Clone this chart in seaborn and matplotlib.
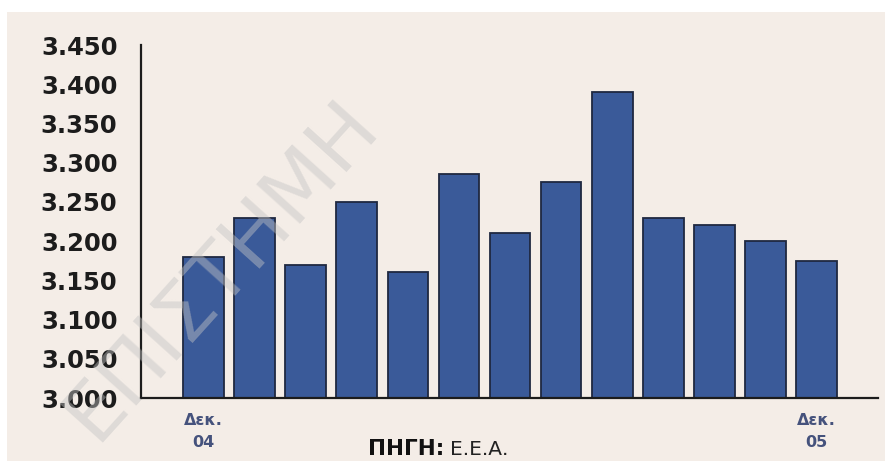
import matplotlib
matplotlib.use("Agg")
import matplotlib.pyplot as plt
import matplotlib.patches as mpatches
import seaborn as sns
import pandas as pd
from matplotlib.ticker import FuncFormatter, MultipleLocator

# ---- data ----
months = ["Δεκ 04", "Ιαν", "Φεβ", "Μαρ", "Απρ", "Μαϊ", "Ιουν",
          "Ιουλ", "Αυγ", "Σεπ", "Οκτ", "Νοε", "Δεκ 05"]
values = [3180, 3230, 3170, 3250, 3160, 3285, 3210,
          3275, 3390, 3230, 3220, 3200, 3175]
tick_labels = ["Δεκ.\n04", "", "", "", "", "", "", "", "", "", "", "", "Δεκ.\n05"]
y_min, y_max, y_step = 3000, 3450, 50
source_bold = "ΠΗΓΗ:"
source_rest = "Ε.Ε.Α."
watermark = "ΕΠΙΣΤΗΜΗ"

df = pd.DataFrame({"month": months, "value": values})

W, H = 885, 461
DPI = 100
bg = "#f4ede7"
bar_color = "#3a5a99"
edge_color = "#1f2840"
txt = "#1c1c1c"

sns.set_theme(style="white")
plt.rcParams["font.family"] = ["DejaVu Sans"]

fig = plt.figure(figsize=(W / DPI, H / DPI), dpi=DPI, facecolor="white")
# cream paper area (white strip at top and left)
fig.patches.append(mpatches.Rectangle((7 / W, 0), 1, 1 - 12 / H,
                                      transform=fig.transFigure,
                                      facecolor=bg, edgecolor="none", zorder=-10))

ax = fig.add_axes([141 / W, 63 / H, (878 - 141) / W, (398 - 45) / H])
ax.set_facecolor("none")

sns.barplot(data=df, x="month", y="value", order=months, color=bar_color,
            saturation=1, width=0.8, edgecolor=edge_color, linewidth=1.3,
            ax=ax, zorder=2)

ax.set_ylim(y_min, y_max)
ax.set_xlim(-1.23, 13.21)
ax.yaxis.set_major_locator(MultipleLocator(y_step))
ax.yaxis.set_major_formatter(FuncFormatter(lambda v, p: f"{int(round(v)):,}".replace(",", ".")))

for s in ["top", "right"]:
    ax.spines[s].set_visible(False)
for s in ["left", "bottom"]:
    ax.spines[s].set_color(txt)
    ax.spines[s].set_linewidth(1.6)

ax.tick_params(axis="y", direction="in", length=12, width=1.5, color=txt,
               pad=17, labelsize=17.5, labelcolor=txt)
for lab in ax.get_yticklabels():
    lab.set_fontweight("bold")

ax.set_xticks(range(len(months)))
ax.set_xticklabels(tick_labels, fontsize=11.5, fontweight="bold",
                   color="#45527c", linespacing=1.55)
ax.tick_params(axis="x", length=0, pad=11)
ax.set_xlabel("")
ax.set_ylabel("")

# source note
t1 = fig.text(368 / W, (H - 455) / H, source_bold, fontsize=15.5,
              fontweight="bold", color="#111111", ha="left", va="baseline")
ax.annotate(source_rest, xy=(1, 0), xycoords=t1, xytext=(4, 0),
            textcoords="offset points", fontsize=14.5, color="#222222",
            ha="left", va="bottom", annotation_clip=False)

# faint diagonal watermark (kept fully inside the figure)
fig.text(95 / W, 18 / H, watermark, fontsize=58, color="#c4c4c4",
         alpha=0.45, rotation=48, rotation_mode="anchor",
         ha="left", va="baseline", zorder=20, fontweight="normal")

fig.savefig("out.png", dpi=DPI, facecolor=fig.get_facecolor())
